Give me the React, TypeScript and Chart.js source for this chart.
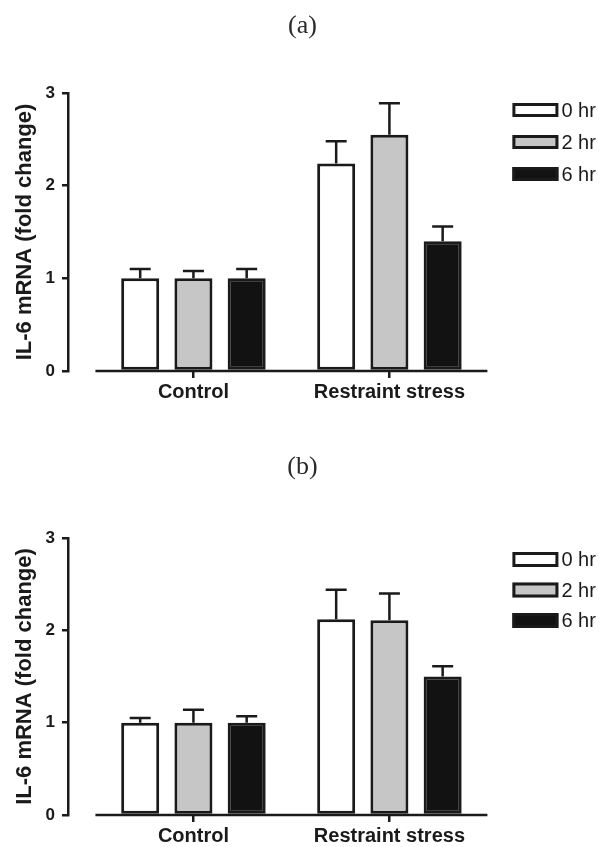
import React, { useEffect, useRef } from "react";
import { Chart, registerables } from "chart.js";

Chart.register(...registerables);

// ---- data ----
const groups = ["Control", "Restraint stress"];
const groupPositions = [0, 1];
const seriesLabels = ["0 hr", "2 hr", "6 hr"];
const seriesColors = ["#ffffff", "#c6c6c6", "#121212"];
const yTickValues = [0, 1, 2, 3];
const yTitle = "IL-6 mRNA (fold change)";

// panel (a): values[series][group]
const panelAValues = [
  [1.0, 2.24],
  [1.0, 2.55],
  [1.0, 1.4],
];
const panelAErrors = [
  [0.1, 0.24],
  [0.08, 0.34],
  [0.1, 0.16],
];

// panel (b)
const panelBValues = [
  [1.0, 2.12],
  [1.0, 2.11],
  [1.0, 1.5],
];
const panelBErrors = [
  [0.05, 0.32],
  [0.14, 0.29],
  [0.07, 0.11],
];

const INK = "#1a1a1a";
const SANS = "'Liberation Sans', Arial, sans-serif";
const SERIF = "'Liberation Serif', 'DejaVu Serif', serif";

const errorBarPlugin = {
  id: "errorBars",
  afterDatasetsDraw(chart: any, _args: any, opts: any) {
    const { ctx } = chart;
    const yScale = chart.scales.y;
    ctx.save();
    ctx.strokeStyle = opts.color;
    ctx.lineWidth = opts.lineWidth;
    chart.data.datasets.forEach((ds: any, i: number) => {
      const meta = chart.getDatasetMeta(i);
      meta.data.forEach((bar: any, j: number) => {
        const v = ds.data[j].y;
        const err = ds.errors[j];
        const yTop = yScale.getPixelForValue(v);
        const yErr = yScale.getPixelForValue(v + err);
        ctx.beginPath();
        ctx.moveTo(bar.x, yTop);
        ctx.lineTo(bar.x, yErr);
        ctx.moveTo(bar.x - opts.capWidth / 2, yErr);
        ctx.lineTo(bar.x + opts.capWidth / 2, yErr);
        ctx.stroke();
      });
    });
    ctx.restore();
  },
};

const baselinePlugin = {
  id: "baseline",
  afterDatasetsDraw(chart: any, _args: any, opts: any) {
    const { ctx, chartArea } = chart;
    const xScale = chart.scales.x;
    ctx.save();
    ctx.strokeStyle = opts.color;
    ctx.lineWidth = opts.lineWidth;
    ctx.beginPath();
    ctx.moveTo(xScale.getPixelForValue(opts.start), chartArea.bottom);
    ctx.lineTo(xScale.getPixelForValue(opts.end), chartArea.bottom);
    ctx.stroke();
    ctx.restore();
  },
};

const boxLegendPlugin = {
  id: "boxLegend",
  afterDraw(chart: any, _args: any, opts: any) {
    const { ctx, chartArea } = chart;
    const xScale = chart.scales.x;
    ctx.save();
    chart.data.datasets.forEach((ds: any, i: number) => {
      const x = xScale.getPixelForValue(opts.anchor) + opts.offsetX;
      const y = chartArea.top + opts.offsetY + i * opts.spacing;
      const w = opts.boxWidth;
      const h = opts.boxHeight;
      const bw = opts.borderWidth;
      ctx.fillStyle = ds.backgroundColor;
      ctx.fillRect(x, y, w, h);
      ctx.lineWidth = bw;
      ctx.strokeStyle = ds.borderColor;
      ctx.strokeRect(x + bw / 2, y + bw / 2, w - bw, h - bw);
      ctx.fillStyle = opts.color;
      ctx.font = opts.font;
      ctx.textAlign = "left";
      ctx.textBaseline = "middle";
      ctx.fillText(ds.label, x + w + opts.gap, y + h / 2 + 1);
    });
    ctx.restore();
  },
};

type PanelProps = {
  title: string;
  values: number[][];
  errors: number[][];
  top: number;
  height: number;
  titlePadTop: number;
  titlePadBottom: number;
  xAxisHeight: number;
  legendOffsetY: number;
  legendSpacing: number;
  legendBoxHeight: number;
};

function Panel(p: PanelProps) {
  const ref = useRef<HTMLCanvasElement>(null);
  useEffect(() => {
    const chart = new Chart(ref.current as HTMLCanvasElement, {
      type: "bar",
      data: {
        datasets: seriesLabels.map((label, s) => ({
          label,
          data: groupPositions.map((x, g) => ({ x, y: p.values[s][g] })),
          errors: p.errors[s],
          backgroundColor: seriesColors[s],
          borderColor: INK,
          borderWidth: 3,
          borderSkipped: false,
          categoryPercentage: 0.815,
          barPercentage: 0.714,
        })) as any,
      },
      options: {
        animation: false,
        responsive: true,
        maintainAspectRatio: false,
        layout: { padding: { left: 0, right: 0, top: 0, bottom: 0 } },
        plugins: {
          legend: { display: false },
          tooltip: { enabled: false },
          title: {
            display: true,
            text: p.title,
            color: "#2a2a2a",
            font: { family: SERIF, size: 26, weight: "normal" },
            padding: { top: p.titlePadTop, bottom: p.titlePadBottom },
          },
          errorBars: { color: INK, lineWidth: 2.5, capWidth: 21 },
          baseline: { color: INK, lineWidth: 2.5, start: -0.5, end: 1.5 },
          boxLegend: {
            anchor: 1.5,
            offsetX: 25,
            offsetY: p.legendOffsetY,
            spacing: p.legendSpacing,
            boxWidth: 46,
            boxHeight: p.legendBoxHeight,
            borderWidth: 3,
            gap: 3,
            color: INK,
            font: `20px ${SANS}`,
          },
        } as any,
        scales: {
          x: {
            type: "linear",
            min: -0.64,
            max: 2.1,
            offset: false,
            border: { display: false },
            grid: {
              display: true,
              drawOnChartArea: false,
              drawTicks: true,
              tickLength: 7,
              lineWidth: 2.5,
              color: INK,
              offset: false,
            },
            ticks: {
              autoSkip: false,
              maxRotation: 0,
              padding: 2,
              color: INK,
              font: { family: SANS, size: 20, weight: "bold" },
              callback: (_v: any, i: number) => groups[i],
            },
            afterBuildTicks: (scale: any) => {
              scale.ticks = groupPositions.map((value) => ({ value }));
            },
            afterFit: (scale: any) => {
              scale.height = p.xAxisHeight;
            },
          },
          y: {
            min: 0,
            max: 3,
            border: { display: true, width: 2.5, color: INK },
            grid: {
              drawOnChartArea: false,
              drawTicks: true,
              tickLength: 6,
              lineWidth: 2.5,
              color: INK,
            },
            ticks: {
              stepSize: 1,
              padding: 7,
              color: INK,
              font: { family: SANS, size: 17, weight: "bold" },
            },
            afterBuildTicks: (scale: any) => {
              scale.ticks = yTickValues.map((value) => ({ value }));
            },
            title: {
              display: true,
              text: yTitle,
              color: INK,
              font: { family: SANS, size: 22, weight: "bold" },
              padding: { top: 12, bottom: 0 },
            },
            afterFit: (scale: any) => {
              scale.width = 68;
            },
          },
        } as any,
      },
      plugins: [errorBarPlugin, baselinePlugin, boxLegendPlugin] as any,
    });
    return () => chart.destroy();
  }, []);
  return (
    <div style={{ position: "absolute", left: 0, top: p.top, width: 605, height: p.height }}>
      <canvas ref={ref} />
    </div>
  );
}

export default function App() {
  return (
    <div
      style={{
        position: "absolute",
        left: 0,
        top: 0,
        width: 605,
        height: 847,
        overflow: "hidden",
        background: "#ffffff",
      }}
    >
      <Panel
        title="(a)"
        values={panelAValues}
        errors={panelAErrors}
        top={0}
        height={420}
        titlePadTop={10.4}
        titlePadBottom={51.4}
        xAxisHeight={49}
        legendOffsetY={10}
        legendSpacing={32}
        legendBoxHeight={14}
      />
      <Panel
        title="(b)"
        values={panelBValues}
        errors={panelBErrors}
        top={420}
        height={427}
        titlePadTop={31.4}
        titlePadBottom={55.4}
        xAxisHeight={32}
        legendOffsetY={14}
        legendSpacing={30.5}
        legendBoxHeight={15}
      />
    </div>
  );
}
